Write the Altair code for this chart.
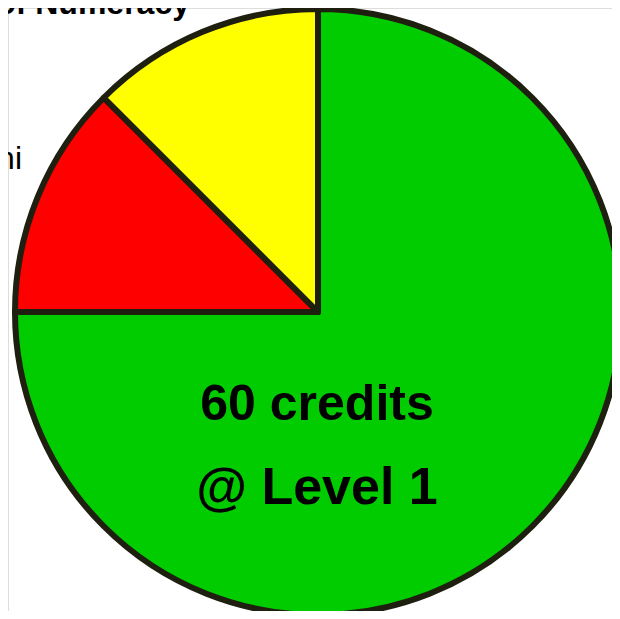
import altair as alt
import pandas as pd

# Data (80 credits total)
categories = ["60 credits @ Level 1", "Literacy", "Numeracy"]
credits = [60, 10, 10]
order = [1, 2, 3]
colors = ["#00CC00", "#FF0000", "#FFFF00"]

df = pd.DataFrame({"category": categories, "credits": credits, "order": order})

W, H = 604, 603
CX, CY = 310, 304

pie = alt.Chart(df).mark_arc(
    radius=303, stroke="#1f1f10", strokeWidth=6, strokeJoin="round"
).encode(
    theta=alt.Theta("credits:Q", stack=True),
    order=alt.Order("order:Q"),
    color=alt.Color("category:N", scale=alt.Scale(domain=categories, range=colors), legend=None),
    x=alt.value(CX),
    y=alt.value(CY),
)

line1 = alt.Chart(pd.DataFrame({"t": ["60 credits"]})).mark_text(
    font="Liberation Sans", fontWeight="bold", fontSize=50, color="#000000",
    align="center", baseline="alphabetic"
).encode(text="t:N", x=alt.value(309), y=alt.value(412))

line2 = alt.Chart(pd.DataFrame({"t": ["@ Level 1"]})).mark_text(
    font="Liberation Sans", fontWeight="bold", fontSize=52, color="#000000",
    align="center", baseline="alphabetic"
).encode(text="t:N", x=alt.value(309), y=alt.value(496))

top_label = alt.Chart(pd.DataFrame({"t": ["of Numeracy"]})).mark_text(
    font="Liberation Sans", fontWeight="bold", fontSize=32, color="#000000",
    align="right", baseline="alphabetic"
).encode(text="t:N", x=alt.value(182), y=alt.value(6))

left_label = alt.Chart(pd.DataFrame({"t": ["ni"]})).mark_text(
    font="Liberation Sans", fontSize=32, color="#000000",
    align="right", baseline="alphabetic"
).encode(text="t:N", x=alt.value(14), y=alt.value(161))

chart = alt.layer(pie, line1, line2, top_label, left_label).properties(
    width=W, height=H, padding=0, autosize=alt.AutoSizeParams(type="none")
).configure_view(stroke="transparent", strokeOpacity=0).configure(background="#FFFFFF")

chart.save("out.html", embed_options={"renderer": "svg", "actions": False})
